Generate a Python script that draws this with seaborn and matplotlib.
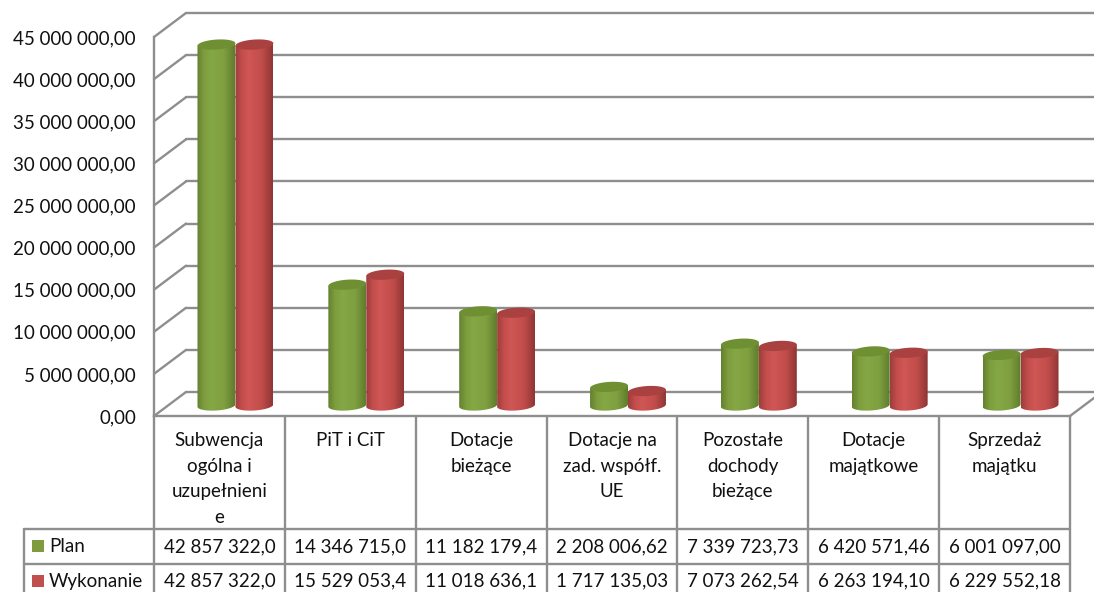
import numpy as np
import pandas as pd
import matplotlib.pyplot as plt
import seaborn as sns
from matplotlib.colors import LinearSegmentedColormap
from matplotlib.patches import Polygon, Rectangle

categories = ['Subwencja\nogólna i\nuzupełnieni\ne', 'PiT i CiT', 'Dotacje\nbieżące',
              'Dotacje na\nzad. współf.\nUE', 'Pozostałe\ndochody\nbieżące',
              'Dotacje\nmajątkowe', 'Sprzedaż\nmajątku']
plan = [42857322.0, 14346715.0, 11182179.4, 2208006.62, 7339723.73, 6420571.46, 6001097.00]
wykonanie = [42857322.0, 15529053.4, 11018636.1, 1717135.03, 7073262.54, 6263194.10, 6229552.18]
plan_labels = ['42 857 322,0', '14 346 715,0', '11 182 179,4', '2 208 006,62',
               '7 339 723,73', '6 420 571,46', '6 001 097,00']
wykonanie_labels = ['42 857 322,0', '15 529 053,4', '11 018 636,1', '1 717 135,03',
                    '7 073 262,54', '6 263 194,10', '6 229 552,18']
y_ticks = [0, 5e6, 10e6, 15e6, 20e6, 25e6, 30e6, 35e6, 40e6, 45e6]

W, H = 1094, 592
GRID = '#8e8e8e'
TEXT = '#111111'
LW = 1.7
FONT = 13.5

sns.set_style('white')
plt.rcParams['font.family'] = ['Lato', 'DejaVu Sans']

fig = plt.figure(figsize=(W / 100, H / 100), dpi=100)


def add_axes(left, top, right, bottom, **kw):
    # pixel box, origin top left
    return fig.add_axes([left / W, 1 - bottom / H, (right - left) / W, (bottom - top) / H], **kw)


def money(v):
    return f'{v:,.2f}'.replace(',', ' ').replace('.', ',')


# back wall, same scale as the front axis but shifted
FRONT_L, FRONT_R, FRONT_T, FRONT_B = 154, 1070, 37, 416
DX, DY = 32, -24
ax_back = add_axes(FRONT_L + DX, FRONT_T + DY, FRONT_R + DX, FRONT_B + DY, zorder=1)
ax_back.set_ylim(0, 45e6)
ax_back.set_yticks(y_ticks)
ax_back.set_xticks([])
ax_back.tick_params(labelleft=False, length=0)
ax_back.grid(axis='y', color=GRID, lw=LW)
ax_back.patch.set_alpha(0)
sns.despine(ax=ax_back, left=True, bottom=True)
for line in ax_back.get_ygridlines():
    line.set_clip_on(False)

# front axis with tick labels
ax = add_axes(FRONT_L, FRONT_T, FRONT_R, FRONT_B, zorder=2)
ax.set_ylim(0, 45e6)
ax.set_xlim(-0.5, 6.5)
ax.set_yticks(y_ticks)
ax.set_yticklabels([money(t) for t in y_ticks], fontsize=FONT, color=TEXT)
ax.set_xticks([])
ax.tick_params(axis='y', length=0, pad=13)
ax.patch.set_alpha(0)
sns.despine(ax=ax, right=True, top=True)
for side in ['left', 'bottom']:
    ax.spines[side].set_color(GRID)
    ax.spines[side].set_linewidth(LW)

# pixel overlay for the wall diagonals and the data table
ax_px = add_axes(0, 0, W, H, zorder=3)
ax_px.set_xlim(0, W)
ax_px.set_ylim(H, 0)
ax_px.axis('off')

step = (FRONT_B - FRONT_T) / 9
for i in range(10):
    y = FRONT_B - i * step
    ax_px.plot([FRONT_L, FRONT_L + DX], [y, y + DY], color=GRID, lw=LW, solid_capstyle='round')
ax_px.plot([FRONT_R, FRONT_R + DX], [FRONT_B, FRONT_B + DY], color=GRID, lw=LW)

col_w = (FRONT_R - FRONT_L) / 7
row1, row2, row3 = 529, 564, 600
for i in range(8):
    x = FRONT_L + i * col_w
    ax_px.plot([x, x], [FRONT_B, row3], color=GRID, lw=LW)
for y in [row1, row2]:
    ax_px.plot([24, FRONT_R], [y, y], color=GRID, lw=LW)
ax_px.plot([24, 24], [row1, row3], color=GRID, lw=LW)

for i, name in enumerate(categories):
    cx = FRONT_L + (i + 0.5) * col_w
    ax_px.text(cx, 432, name, ha='center', va='top', fontsize=FONT, color=TEXT, linespacing=1.62)
    ax_px.text(cx, 547, plan_labels[i], ha='center', va='center', fontsize=FONT, color=TEXT)
    ax_px.text(cx, 581, wykonanie_labels[i], ha='center', va='center', fontsize=FONT, color=TEXT)

ax_px.add_patch(Rectangle((32, 540), 12, 12, color='#7f9a3f', lw=0))
ax_px.add_patch(Rectangle((32, 575), 12, 12, color='#c0504d', lw=0))
ax_px.text(49, 547, 'Plan', va='center', fontsize=FONT, color=TEXT)
ax_px.text(49, 581, 'Wykonanie', va='center', fontsize=FONT, color=TEXT)

# cylinders
BAR_DX, BAR_ZERO = 16, 405.5
per_px = 45e6 / (FRONT_B - FRONT_T)
ax_bars = add_axes(FRONT_L + BAR_DX, 0, FRONT_R + BAR_DX, 432, zorder=4)
df = pd.DataFrame({'kategoria': list(range(7)) * 2,
                   'seria': ['Plan'] * 7 + ['Wykonanie'] * 7,
                   'kwota': plan + wykonanie})
sns.barplot(data=df, x='kategoria', y='kwota', hue='seria', width=0.58, legend=False,
            palette=['#7f9a3f', '#c0504d'], ax=ax_bars)

styles = [
    (['#64822f', '#7d9d3e', '#86a745', '#7f9f40', '#5f7d2c'], '#6f9032'),
    (['#9c3d3c', '#c44e4c', '#cf5755', '#c04c4a', '#8f3635'], '#a8413f'),
]
xlim = (-0.5, 6.5)
ylim = ((BAR_ZERO - 432) * per_px, BAR_ZERO * per_px)
ell_h = 5 * per_px
tilt = 1.2 * per_px
theta = np.linspace(0, 2 * np.pi, 80)

for container, (ramp, top_col) in zip(ax_bars.containers, styles):
    cmap = LinearSegmentedColormap.from_list('cyl', list(zip([0, 0.18, 0.38, 0.72, 1], ramp)))
    for bar in container:
        x0, w, top = bar.get_x(), bar.get_width(), bar.get_height()
        xc = x0 + w / 2
        bar.set_visible(False)
        ex = xc + w / 2 * np.cos(theta)
        lean = tilt * np.cos(theta)
        # lower half of the base, then up to the top
        low = np.sin(theta) <= 0
        order = np.argsort(ex[low])
        side = np.column_stack([ex[low][order], (ell_h * np.sin(theta) + lean)[low][order]])
        body = np.vstack([side, [[x0 + w, top + tilt], [x0, top - tilt]]])
        clip = Polygon(body, closed=True, transform=ax_bars.transData, fc='none', ec='none')
        ax_bars.add_patch(clip)
        im = ax_bars.imshow(np.linspace(0, 1, 64).reshape(1, -1), cmap=cmap, aspect='auto',
                            extent=(x0, x0 + w, -2 * ell_h, top + 2 * ell_h),
                            interpolation='bilinear', zorder=3)
        im.set_clip_path(clip)
        cap = np.column_stack([ex, top + ell_h * np.sin(theta) + lean])
        ax_bars.add_patch(Polygon(cap, closed=True, fc=top_col, ec='none', zorder=4))

ax_bars.set_xlim(*xlim)
ax_bars.set_ylim(*ylim)
ax_bars.axis('off')

fig.savefig('out.png', dpi=100)
